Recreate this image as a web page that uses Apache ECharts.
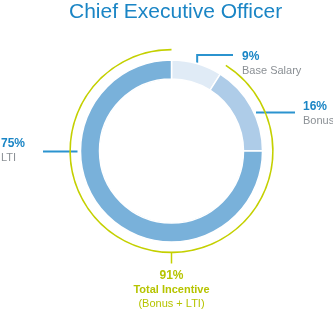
<!DOCTYPE html>
<html>
	<head>
		<meta charset="UTF-8">
		<title>Chief Executive Officer</title>
		<style>
			html,body{margin:0;padding:0;background:#fff;}
			#box{width:333px;height:322px;}
		</style>
	</head>
	<body>
		<div id="box"></div>
		<script type="text/javascript" src="https://cdn.jsdelivr.net/npm/echarts@6/dist/echarts.min.js"></script>
		<script type="text/javascript">
			// data
			var titleText = 'Chief Executive Officer';
			var names = ['Base Salary', 'Bonus', 'LTI'];
			var values = [9, 16, 75];
			var incentiveName = 'Total Incentive';
			var incentiveNote = '(Bonus + LTI)';

			// colours
			var sliceColors = ['#e0ebf6', '#aecce8', '#79b1da'];
			var blue = '#1a85c5';
			var lineBlue = '#2b93cf';
			var grey = '#8b9095';
			var green = '#c4d000';
			var greenText = '#b6c400';
			var font = '"Liberation Sans", Arial, sans-serif';

			var cx = 171.5, cy = 151;
			function pt(deg, r){
				var a = deg * Math.PI / 180;
				return [cx + r * Math.sin(a), cy - r * Math.cos(a)];
			}

			var total = values.reduce(function(a, b){ return a + b; }, 0);
			var incentive = values[1] + values[2];

			var box = document.getElementById('box');
			var myechart = echarts.init(box);

			var pieData = names.map(function(n, i){
				return { name: n, value: values[i], itemStyle: { color: sliceColors[i] } };
			});

			// label placement for each slice
			function mainLayout(p){
				var i = p.dataIndex;
				if(i === 0){
					var mid = values[0] / total * 360 / 2;
					var s = pt(mid, 92);
					return {
						x: 242, y: 50, align: 'left', verticalAlign: 'top',
						labelLinePoints: [[s[0], s[1]], [s[0], 55], [233, 55]]
					};
				}
				if(i === 1){
					return {
						x: 303, y: 100, align: 'left', verticalAlign: 'top',
						labelLinePoints: [[256, 112.5], [275, 112.5], [295, 112.5]]
					};
				}
				return {
					x: 1, y: 137, align: 'left', verticalAlign: 'top',
					labelLinePoints: [[77.5, cy + 0.5], [60, cy + 0.5], [43, cy + 0.5]]
				};
			}

			var option = {
				animation: false,
				title: {
					text: titleText,
					left: 69,
					top: 2,
					padding: 0,
					textStyle: { color: blue, fontSize: 21, fontWeight: 'normal', fontFamily: font }
				},
				series: [{
					name: 'pay',
					type: 'pie',
					center: [cx, cy],
					radius: [72, 91],
					startAngle: 90,
					clockwise: true,
					avoidLabelOverlap: false,
					silent: true,
					itemStyle: { borderColor: '#fff', borderWidth: 1.5 },
					label: {
						show: true,
						position: 'outside',
						overflow: 'none',
						formatter: '{p|{d}%}\n{n|{b}}',
						rich: {
							p: { color: blue, fontSize: 12, fontWeight: 'bold', fontFamily: font, lineHeight: 14 },
							n: { color: grey, fontSize: 11, fontFamily: font, lineHeight: 14 }
						}
					},
					labelLine: { show: true, length: 10, length2: 20, lineStyle: { color: lineBlue, width: 2 } },
					labelLayout: mainLayout,
					data: pieData
				}, {
					name: 'incentive',
					type: 'pie',
					center: [cx, cy],
					radius: [100.6, 102.2],
					startAngle: 90,
					clockwise: true,
					avoidLabelOverlap: false,
					silent: true,
					label: {
						show: true,
						position: 'outside',
						overflow: 'none',
						formatter: '{p|{c}%}\n{b|{b}}\n{n|' + incentiveNote + '}',
						rich: {
							p: { color: greenText, fontSize: 12, fontWeight: 'bold', fontFamily: font, lineHeight: 14 },
							b: { color: greenText, fontSize: 11, fontWeight: 'bold', fontFamily: font, lineHeight: 14 },
							n: { color: greenText, fontSize: 11, fontFamily: font, lineHeight: 14 }
						}
					},
					labelLine: { show: true, length: 8, length2: 4, lineStyle: { color: green, width: 1.5 } },
					labelLayout: function(p){
						return {
							x: cx, y: 269, align: 'center', verticalAlign: 'top',
							labelLinePoints: [[cx, 252], [cx, 257], [cx, 263.5]]
						};
					},
					data: [
						{ name: names[0], value: values[0], itemStyle: { color: 'rgba(0,0,0,0)' }, label: { show: false }, labelLine: { show: false } },
						{ name: incentiveName, value: incentive, itemStyle: { color: green } }
					]
				}]
			};

			myechart.setOption(option);
		</script>
	</body>
</html>
